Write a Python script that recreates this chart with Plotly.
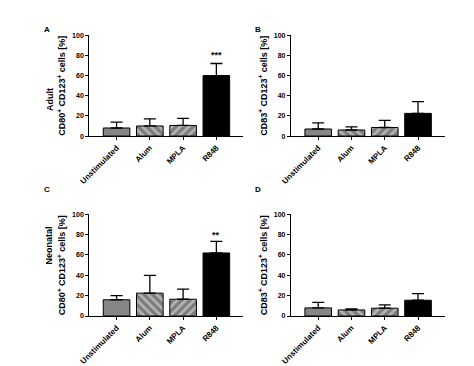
import plotly.graph_objects as go

categories = ["Unstimulated", "Alum", "MPLA", "R848"]

# Panel values (mean) and upper error (SD)
a_vals = [8, 10, 10.5, 60]
a_errs = [5.8, 7, 7, 12]
b_vals = [7, 6, 8.5, 22.5]
b_errs = [6, 3.2, 7, 11.7]
c_vals = [16, 22.5, 16.5, 62]
c_errs = [4, 17.5, 10, 11.3]
d_vals = [8, 6, 7.7, 15.5]
d_errs = [5.5, 1, 3.3, 6.5]

y_ticks = [0, 20, 40, 60, 80, 100]
panel_letters = ["A", "B", "C", "D"]
row_labels = ["Adult", "Neonatal"]
y_titles = ["CD80<sup>+</sup> CD123<sup>+</sup> cells [%]",
            "CD83<sup>+</sup> CD123<sup>+</sup> cells [%]"]
signif = {"A": "***", "C": "**"}

W, H = 474, 366
FONT = "Liberation Sans, Arial, sans-serif"

fig = go.Figure()

# panel geometry in pixels: (x_left, x_right, y_top(100), y_bottom(0))
geom = {
    "A": (81, 238, 32, 135),
    "B": (287, 444, 32, 135),
    "C": (81, 238, 215, 319),
    "D": (287, 444, 215, 319),
}
data = {"A": (a_vals, a_errs), "B": (b_vals, b_errs),
        "C": (c_vals, c_errs), "D": (d_vals, d_errs)}

colors = ["#868686", "#b4b4b4", "#b4b4b4", "#000000"]
patterns = ["", "\\", "/", ""]

for i, p in enumerate(panel_letters):
    xl, xr, yt, yb = geom[p]
    idx = "" if i == 0 else str(i + 1)
    vals, errs = data[p]
    fig.add_trace(go.Bar(
        x=categories, y=vals,
        xaxis="x" + idx, yaxis="y" + idx,
        width=0.8,
        marker=dict(
            color=colors,
            line=dict(color="black", width=1),
            pattern=dict(shape=patterns, fgcolor="#000000",
                         bgcolor="#b4b4b4", size=6, solidity=0.55),
        ),
        error_y=dict(type="data", symmetric=False, array=errs,
                     arrayminus=[0] * 4, color="black",
                     thickness=1.3, width=6),
        showlegend=False,
    ))
    xdom = [xl / W, xr / W]
    ydom = [1 - yb / H, 1 - yt / H]
    fig.layout["xaxis" + idx] = dict(
        domain=xdom, anchor="y" + idx, range=[-0.82, 3.8],
        showline=True, linecolor="black", linewidth=1.2,
        ticks="outside", ticklen=3, tickcolor="black", tickwidth=1,
        tickangle=-45, showgrid=False, zeroline=False,
        tickfont=dict(family=FONT, size=8, color="black", weight="bold"),
    )
    fig.layout["yaxis" + idx] = dict(
        domain=ydom, anchor="x" + idx, range=[0, 100],
        tickvals=y_ticks, showline=True, linecolor="black", linewidth=1.2,
        ticks="outside", ticklen=3, tickcolor="black", tickwidth=1,
        showgrid=False, zeroline=False,
        tickfont=dict(family=FONT, size=7, color="black", weight="bold"),
        title=dict(text=y_titles[i % 2], standoff=4,
                   font=dict(family=FONT, size=9, color="black", weight="bold")),
    )
    # panel letter
    fig.add_annotation(x=(33 if i % 2 == 0 else 253) / W,
                       y=1 - ((19 if i < 2 else 190) / H),
                       xref="paper", yref="paper", text=p, showarrow=False,
                       font=dict(family=FONT, size=8, color="black", weight="bold"))
    if p in signif:
        fig.add_annotation(x=categories[3], y=80, xref="x" + idx, yref="y" + idx,
                           text=signif[p], showarrow=False, yanchor="middle",
                           font=dict(family=FONT, size=9, color="black", weight="bold"))

for r, lab in enumerate(row_labels):
    fig.add_annotation(x=33 / W, y=1 - ((84 if r == 0 else 268) / H),
                       xref="paper", yref="paper", text=lab, showarrow=False,
                       textangle=-90,
                       font=dict(family=FONT, size=9, color="black", weight="bold"))

fig.update_layout(
    width=W, height=H, margin=dict(l=0, r=0, t=0, b=0),
    paper_bgcolor="white", plot_bgcolor="white",
    font=dict(family=FONT, color="black"),
)

fig.write_html("out.html", config={"displayModeBar": False},
               post_script="document.body.style.margin='0';document.body.style.overflow='hidden';")
